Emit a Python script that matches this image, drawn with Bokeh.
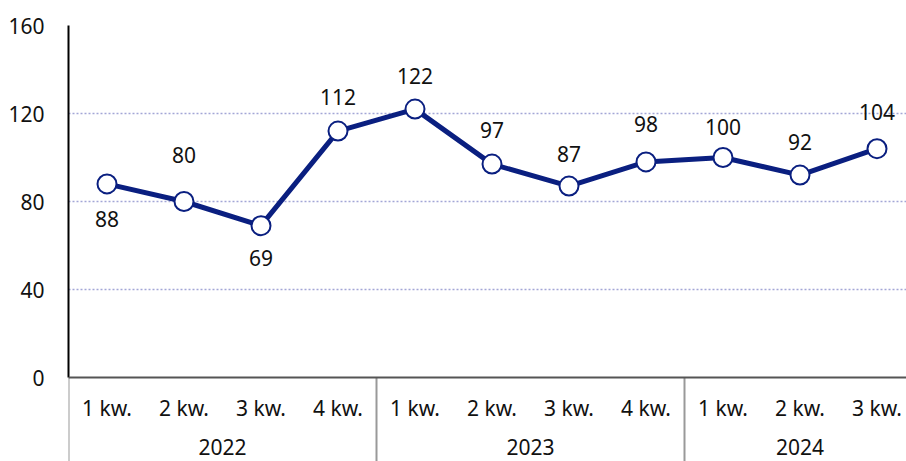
from bokeh.plotting import figure
from bokeh.models import ColumnDataSource, Range1d, FixedTicker, Span
from bokeh.core.properties import value
from bokeh.embed import file_html
from bokeh.resources import INLINE

# ---- data ----
years = ["2022", "2023", "2024"]
quarters_per_year = [4, 4, 3]
quarter_labels = ["1 kw.", "2 kw.", "3 kw.", "4 kw.",
                  "1 kw.", "2 kw.", "3 kw.", "4 kw.",
                  "1 kw.", "2 kw.", "3 kw."]
values = [88, 80, 69, 112, 122, 97, 87, 98, 100, 92, 104]
y_ticks = [0, 40, 80, 120, 160]

# ---- styles ----
FONT = "Noto Sans"
FS = "21px"
NAVY = "#0a1f80"
TXT = "#111111"
label_dy = [35, -47, 32, -34, -33, -34, -32, -38, -31, -33, -37]

W, H = 906, 461
LEFT, TOP = 68, 25
STEP = 77            # px per quarter
PX_PER_UNIT = 2.2    # px per y unit
frame_w = W - LEFT
frame_h = H - TOP
y_top = 160
y_bottom = y_top - frame_h / PX_PER_UNIT

n = len(values)
xs = [i + 0.5 for i in range(n)]

bounds, centres = [], []
start = 0
for q in quarters_per_year:
    bounds.append(start)
    centres.append(start + q / 2)
    start += q

p = figure(width=W, height=H, output_backend="svg", toolbar_location=None,
           x_range=Range1d(0, frame_w / STEP), y_range=Range1d(y_bottom, y_top),
           min_border_left=LEFT, min_border_right=0, min_border_top=TOP,
           min_border_bottom=0)
p.outline_line_color = None
p.background_fill_color = "white"
p.border_fill_color = "white"
p.xaxis.visible = False

# y axis
ya = p.yaxis[0]
ya.ticker = FixedTicker(ticks=y_ticks)
ya.bounds = (0, 160)
ya.axis_line_color = "black"
ya.axis_line_width = 2
ya.major_tick_line_color = None
ya.major_tick_out = 0
ya.major_tick_in = 0
ya.minor_tick_line_color = None
ya.major_label_standoff = 24
ya.major_label_text_font = FONT
ya.major_label_text_font_size = FS
ya.major_label_text_color = TXT

# grid
p.xgrid.visible = False
p.ygrid.ticker = FixedTicker(ticks=y_ticks[1:])
p.ygrid.grid_line_color = "#a3a6d6"
p.ygrid.grid_line_dash = "2 2"
p.ygrid.grid_line_width = 1.5

# category separators below the x axis
p.segment(x0=bounds, y0=[0] * len(bounds), x1=bounds, y1=[y_bottom] * len(bounds),
          line_color="#999999", line_width=2)
# x axis line
p.add_layout(Span(location=0, dimension="width", line_color="#555555", line_width=2))

# quarter and year labels
qsrc = ColumnDataSource(dict(x=xs, y=[0] * n, t=quarter_labels))
p.text("x", "y", text="t", source=qsrc, y_offset=30, text_align="center",
       text_baseline="middle", text_font=value(FONT), text_font_size=FS,
       text_color=TXT)
ysrc = ColumnDataSource(dict(x=centres, y=[0] * len(centres), t=years))
p.text("x", "y", text="t", source=ysrc, y_offset=69, text_align="center",
       text_baseline="middle", text_font=value(FONT), text_font_size=FS,
       text_color=TXT)

# series
src = ColumnDataSource(dict(x=xs, y=values, t=[str(v) for v in values], dy=label_dy))
p.line("x", "y", source=src, line_color=NAVY, line_width=5)
p.scatter("x", "y", source=src, size=19, fill_color="white", line_color=NAVY, line_width=2)
p.text("x", "y", text="t", source=src, y_offset="dy", text_align="center",
       text_baseline="middle", text_font=value(FONT), text_font_size=FS,
       text_color=TXT)

open("out.html", "w").write(file_html(p, INLINE))
